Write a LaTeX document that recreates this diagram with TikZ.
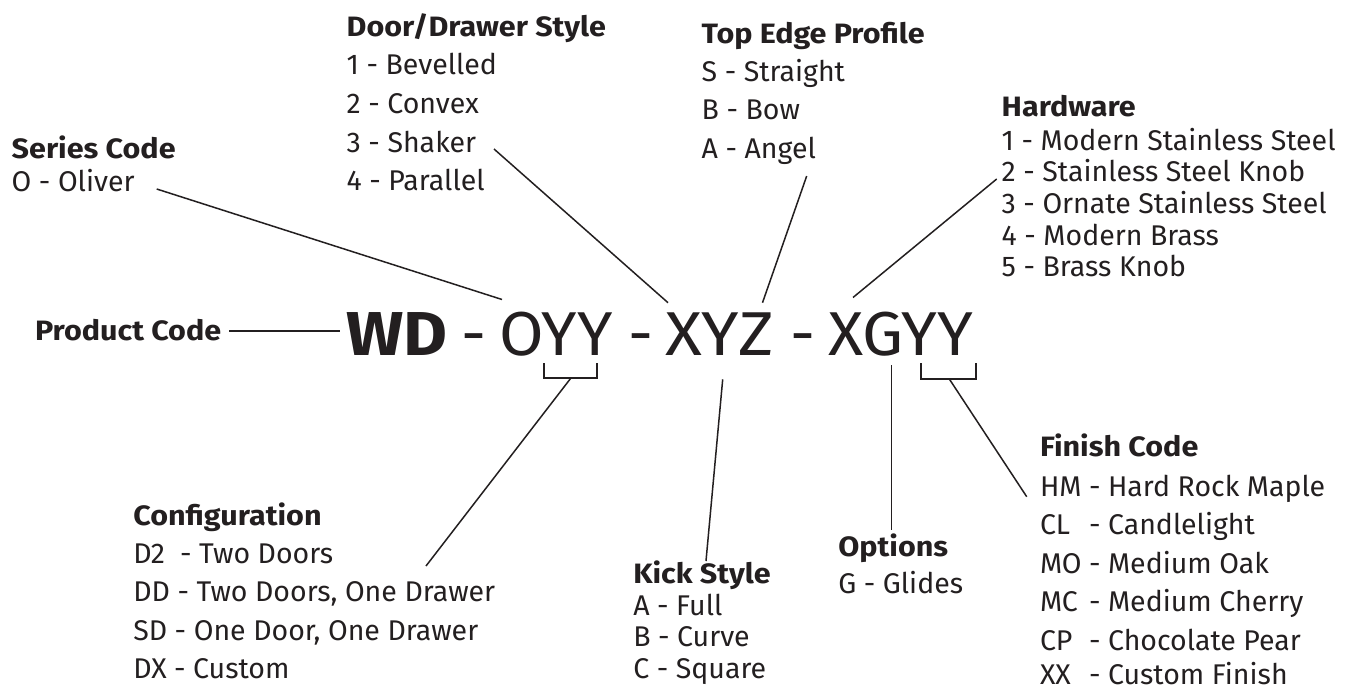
\documentclass[tikz,border=0pt]{standalone}
\usepackage{fontspec}
\setmainfont{Fira Sans}[BoldFeatures={FakeStretch=1.09}]
\definecolor{ink}{RGB}{35,31,32}
\begin{document}
\begin{tikzpicture}[x=1pt,y=-1pt,
  every node/.style={inner sep=0pt,outer sep=0pt,text=ink},
  ttl/.style={anchor=base west,font=\fontsize{28}{30}\selectfont\bfseries},
  itm/.style={anchor=base west,font=\fontsize{28.5}{30}\selectfont},
  codebig/.style={anchor=base west,font=\fontsize{62}{64}\selectfont},
  leader/.style={draw=ink,line width=1.5pt},
  brk/.style={draw=ink,line width=2pt}]
\fill[white] (0,0) rectangle (1363,690);
\useasboundingbox (0,0) rectangle (1363,690);

% ---- main code
\node[codebig,font=\fontsize{62}{64}\selectfont\bfseries] (wd) at (346,355) {WD};
\node[codebig,anchor=base] (d1) at (474,355) {-};
\node[codebig,xscale=1.04] (oyy) at (499,355) {OYY};
\node[codebig,anchor=base] (d2) at (641,355) {-};
\node[codebig,xscale=1.1] (xyz) at (665,355) {XYZ};
\node[codebig,anchor=base] (d3) at (803,355) {-};
\node[codebig,xscale=1.05] (xgyy) at (828,355) {XGYY};

% ---- Product code
\node[ttl] (pc) at (35,340) {Product Code};
\coordinate (pcE) at (340,331);
\draw[leader] (pc.east |- pcE) ++(8,0) -- (pcE);

% ---- Series code
\node[ttl] (sct) at (11.7,159) {Series Code};
\node[itm] (sc1) at (11.7,191.7) {O - Oliver};
\coordinate (scA) at (156.7,189);
\coordinate (scB) at (502,299.5);
\draw[leader] (scA) -- (scB);

% ---- Door/Drawer style
\node[ttl] (ddt) at (346.7,36.7) {Door/Drawer Style};
\node[itm] (dd1) at (346.7,75) {1 - Bevelled};
\node[itm] (dd2) at (346.7,113.5) {2 - Convex};
\node[itm] (dd3) at (346.7,152.5) {3 - Shaker};
\node[itm] (dd4) at (346.7,190.7) {4 - Parallel};
\coordinate (ddA) at (494,149);
\coordinate (ddB) at (668,302.7);
\draw[leader] (ddA) -- (ddB);

% ---- Top edge profile
\node[ttl] (tet) at (701.7,43.3) {Top Edge Profile};
\node[itm] (te1) at (701.7,81.7) {S - Straight};
\node[itm] (te2) at (701.7,120) {B - Bow};
\node[itm] (te3) at (701.7,158.3) {A - Angel};
\coordinate (teA) at (806.7,176);
\coordinate (teB) at (762.5,302.7);
\draw[leader] (teA) -- (teB);

% ---- Hardware
\node[ttl] (hwt) at (1001.7,116.7) {Hardware};
\node[itm] (hw1) at (1001.7,150.7) {1 - Modern Stainless Steel};
\node[itm] (hw2) at (1001.7,181.7) {2 - Stainless Steel Knob};
\node[itm] (hw3) at (1001.7,213.3) {3 - Ornate Stainless Steel};
\node[itm] (hw4) at (1001.7,245) {4 - Modern Brass};
\node[itm] (hw5) at (1001.7,276.7) {5 - Brass Knob};
\coordinate (hwA) at (996.7,179);
\coordinate (hwB) at (853,297.5);
\draw[leader] (hwA) -- (hwB);

% ---- Configuration
\node[ttl] (cft) at (133.3,525) {Configuration};
\node[itm] (cf1) at (133.3,563.3) {D2\ \ - Two Doors};
\node[itm] (cf2) at (133.3,601.7) {DD - Two Doors, One Drawer};
\node[itm] (cf3) at (133.3,640) {SD - One Door, One Drawer};
\node[itm] (cf4) at (133.3,678.3) {DX - Custom};
\coordinate (b1a) at (544,363.3);
\coordinate (b1b) at (544,378.3);
\coordinate (b1c) at (597.3,378.3);
\coordinate (b1d) at (597.3,363.3);
\draw[brk] (b1a) -- (b1b) -- (b1c) -- (b1d);
\coordinate (cfB) at (570.7,378.3);
\coordinate (cfA) at (426,566);
\draw[leader] (cfB) -- (cfA);

% ---- Kick style
\node[ttl] (kst) at (633.3,583.3) {Kick Style};
\node[itm] (ks1) at (633.3,615) {A - Full};
\node[itm] (ks2) at (633.3,646.7) {B - Curve};
\node[itm] (ks3) at (633.3,678.3) {C - Square};
\coordinate (ksB) at (722.7,379.3);
\coordinate (ksA) at (706,561);
\draw[leader] (ksB) -- (ksA);

% ---- Options
\node[ttl] (opt) at (838.3,556.7) {Options};
\node[itm] (op1) at (838.3,593.3) {G - Glides};
\coordinate (opB) at (891.7,365);
\coordinate (opA) at (891.7,530);
\draw[leader] (opB) -- (opA);

% ---- Finish code
\node[ttl] (fct) at (1040,456.7) {Finish Code};
\node[itm] (fc1c) at (1040,496.7) {HM};
\node[itm] (fc1) at (1089,496.7) {- Hard Rock Maple};
\node[itm] (fc2c) at (1040,534) {CL};
\node[itm] (fc2) at (1089,534) {- Candlelight};
\node[itm] (fc3c) at (1040,573.3) {MO};
\node[itm] (fc3) at (1089,573.3) {- Medium Oak};
\node[itm] (fc4c) at (1040,611.7) {MC};
\node[itm] (fc4) at (1089,611.7) {- Medium Cherry};
\node[itm] (fc5c) at (1040,650) {CP};
\node[itm] (fc5) at (1089,650) {- Chocolate Pear};
\node[itm] (fc6c) at (1040,684) {XX};
\node[itm] (fc6) at (1089,684) {- Custom Finish};
\coordinate (b2a) at (920.7,363.3);
\coordinate (b2b) at (920.7,379);
\coordinate (b2c) at (976,379);
\coordinate (b2d) at (976,363.3);
\draw[brk] (b2a) -- (b2b) -- (b2c) -- (b2d);
\coordinate (fcB) at (949.3,379);
\coordinate (fcA) at (1026.7,496.7);
\draw[leader] (fcB) -- (fcA);
\end{tikzpicture}
\end{document}
